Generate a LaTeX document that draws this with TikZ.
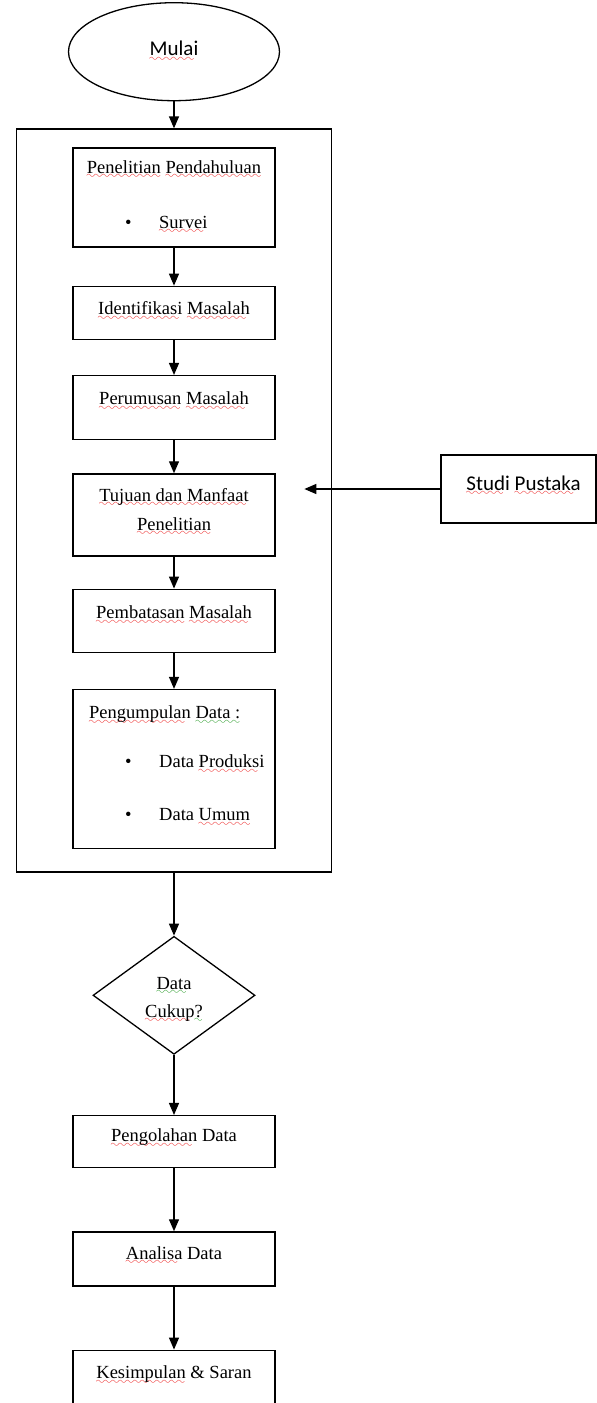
\documentclass[tikz,border=0pt]{standalone}
\usepackage{fontspec}
\setmainfont{Liberation Serif}
\newfontfamily\calibri{Carlito}
\usetikzlibrary{arrows.meta,positioning,calc,shapes.geometric}
\definecolor{spellred}{RGB}{235,20,20}
\definecolor{spellgreen}{RGB}{30,150,30}
\font\wavefont=lasy10 at 11pt
\newcommand\wavemark[2]{\setbox0\hbox{#2}\leavevmode
  \rlap{\textcolor{#1}{\lower5.5pt\hbox to\wd0{\leaders\hbox{\wavefont\char58}\hfill}}}\box0\relax}
\newcommand\rwave[1]{\wavemark{spellred}{#1}}
\newcommand\gwave[1]{\wavemark{spellgreen}{#1}}

\begin{document}
\begin{tikzpicture}[x=1pt,y=-1pt,
  box/.style={draw,line width=1.3pt,minimum width=202pt,inner sep=0pt},
  txt/.style={inner sep=0pt,anchor=base,font=\fontsize{18.5}{22}\selectfont},
  cal/.style={inner sep=0pt,anchor=base,font=\fontsize{21}{25}\calibri},
  arr/.style={line width=1.3pt,-{Triangle[length=12pt,width=10pt]}}]
\useasboundingbox (0,0) rectangle (597,1403);
\node[draw,line width=1.3pt,minimum width=315pt,minimum height=743pt,inner sep=0pt] (frame) at (174,500.5) {};
\node[ellipse,draw,line width=1.3pt,minimum width=211pt,minimum height=98pt,inner sep=0pt,above=27pt of frame] (mulai) {};
\node[box,minimum height=99pt,below=19pt of frame.north] (survei) {};
\node[box,minimum height=53pt,below=38pt of survei] (identifikasi) {};
\node[box,minimum height=64pt,below=35pt of identifikasi] (rumusan) {};
\node[box,minimum height=82pt,below=33pt of rumusan] (tujuan) {};
\node[box,minimum height=63pt,below=32pt of tujuan] (batasan) {};
\node[box,minimum height=159pt,below=36pt of batasan] (kumpul) {};
\node[diamond,draw,line width=1.3pt,minimum width=162pt,minimum height=118pt,inner sep=0pt,below=63pt of frame] (cukup) {};
\node[box,minimum height=52pt,below=60pt of cukup] (olah) {};
\node[box,minimum height=54pt,below=63pt of olah] (analisa) {};
\node[box,minimum height=80pt,below=63pt of analisa] (simpul) {};
\node[draw,line width=1.3pt,minimum width=155pt,minimum height=68pt,inner sep=0pt] (studi) at (518.5,489) {};
\coordinate[left=136pt of studi.west] (studiend);
% texts
\node[cal] (mulaitxt) at ($(mulai.center)+(0,4)$) {\rwave{Mulai}};
\node[txt] (surveititle) at ($(survei.north)+(0,26)$) {\rwave{Penelitian} \rwave{Pendahuluan}};
\node[txt,anchor=base west] (surveiitem) at ($(survei.north)+(-49,81)$) {\makebox[34pt][l]{\textbullet}\rwave{Survei}};
\node[txt] (identifikasitxt) at ($(identifikasi.north)+(0,29)$) {\rwave{Identifikasi} \rwave{Masalah}};
\node[txt] (rumusantxt) at ($(rumusan.north)+(0,30)$) {\rwave{Perumusan} \rwave{Masalah}};
\node[txt] (tujuantxt) at ($(tujuan.north)+(0,28)$) {\rwave{Tujuan dan Manfaat}};
\node[txt] (tujuantxtb) at ($(tujuan.north)+(0,57)$) {\rwave{Penelitian}};
\node[txt] (batasantxt) at ($(batasan.north)+(0,30)$) {\rwave{Pembatasan} \rwave{Masalah}};
\node[txt,anchor=base west] (kumpultxt) at ($(kumpul.north)+(-85,30)$) {\rwave{Pengumpulan} \gwave{Data :}};
\node[txt,anchor=base west] (kumpulprod) at ($(kumpul.north)+(-49,79)$) {\makebox[34pt][l]{\textbullet}Data \rwave{Produksi}};
\node[txt,anchor=base west] (kumpulumum) at ($(kumpul.north)+(-49,132)$) {\makebox[34pt][l]{\textbullet}Data \rwave{Umum}};
\node[txt] (cukuptxt) at ($(cukup.center)+(0,-6)$) {\gwave{Data}};
\node[txt] (cukuptxtb) at ($(cukup.center)+(0,22)$) {\rwave{Cukup}\gwave{?}};
\node[txt] (olahtxt) at ($(olah.north)+(0,27)$) {\rwave{Pengolahan} Data};
\node[txt] (analisatxt) at ($(analisa.north)+(0,28)$) {\rwave{Analisa} Data};
\node[txt] (simpultxt) at ($(simpul.north)+(0,29)$) {\rwave{Kesimpulan} \& Saran};
\node[cal] (studitxt) at ($(studi.north)+(5,36)$) {\rwave{Studi} \rwave{Pustaka}};
% arrows
\draw[arr] (mulai) -- (frame);
\draw[arr] (survei) -- (identifikasi);
\draw[arr] (identifikasi) -- (rumusan);
\draw[arr] (rumusan) -- (tujuan);
\draw[arr] (tujuan) -- (batasan);
\draw[arr] (batasan) -- (kumpul);
\draw[arr] (frame) -- (cukup);
\draw[arr] (cukup) -- (olah);
\draw[arr] (olah) -- (analisa);
\draw[arr] (analisa) -- (simpul);
\draw[arr] (studi) -- (studiend);
\end{tikzpicture}
\end{document}
